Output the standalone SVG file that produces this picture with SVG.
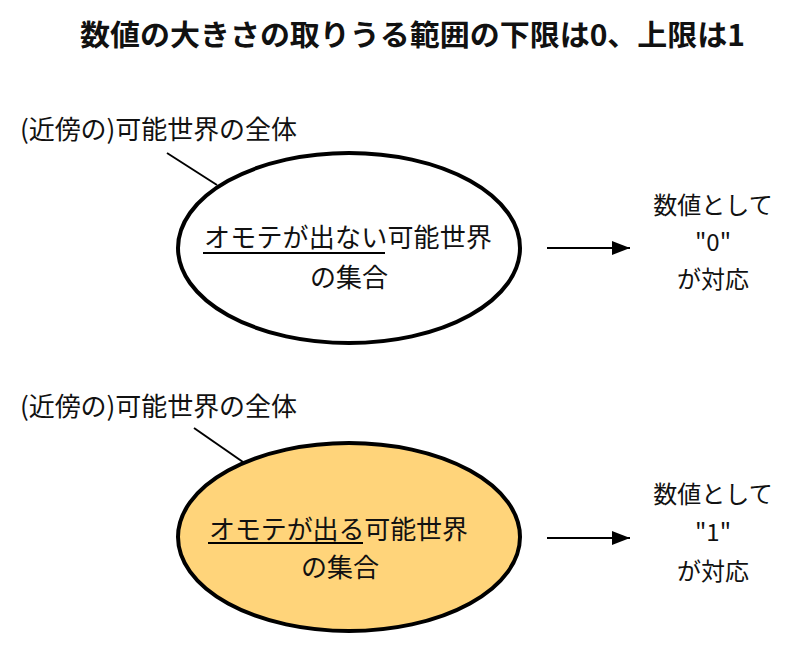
<svg xmlns="http://www.w3.org/2000/svg" width="800" height="656" viewBox="0 0 800 656">
<defs>
<style>
text{font-family:"Noto Sans CJK JP","Noto Sans",sans-serif;fill:#111;dominant-baseline:central}
.t{font-size:24px}
.m{font-size:26px}
.c{text-anchor:middle}
.title{font-size:29px;font-weight:bold}
.ell{stroke:#000;stroke-width:4}
.lead{stroke:#000;stroke-width:2;fill:none}
.ul{stroke:#000;stroke-width:2}
.arr{stroke:#000;stroke-width:2;fill:none}
</style>
<marker id="ah" markerWidth="18" markerHeight="14" refX="18" refY="7" orient="auto" markerUnits="userSpaceOnUse" viewBox="0 0 18 14">
<path d="M0,0 L18,7 L0,14 z" fill="#000"/>
</marker>
</defs>
<rect width="800" height="656" fill="#fff"/>
<text class="title" x="80" y="33" textLength="665" lengthAdjust="spacingAndGlyphs">数値の大きさの取りうる範囲の下限は0、上限は1</text>

<g id="label1"><text class="m" x="20" y="127" textLength="277">(近傍の)可能世界の全体</text></g>
<g id="set0">
<ellipse class="ell" cx="349" cy="248" rx="171" ry="95" fill="#fff"/>
<text class="m" x="204" y="235" textLength="288">オモテが出ない可能世界</text>
<line class="ul" x1="203" y1="253" x2="385" y2="253"/>
<text class="m c" x="349" y="275">の集合</text>
</g>
<g id="val0">
<text class="t c" x="713" y="203">数値として</text>
<text class="t c" x="713" y="240">"0"</text>
<text class="t c" x="713" y="277">が対応</text>
</g>

<g id="label2"><text class="m" x="20" y="404" textLength="277">(近傍の)可能世界の全体</text></g>
<g id="set1">
<ellipse class="ell" cx="349" cy="537" rx="171" ry="94" fill="#FFD47A"/>
<text class="m" x="209" y="527" textLength="259">オモテが出る可能世界</text>
<line class="ul" x1="208" y1="543" x2="363" y2="543"/>
<text class="m c" x="340" y="565">の集合</text>
</g>
<g id="val1">
<text class="t c" x="713" y="492">数値として</text>
<text class="t c" x="713" y="530">"1"</text>
<text class="t c" x="713" y="569">が対応</text>
</g>

<g id="connectors">
<line class="lead" x1="167" y1="153" x2="217" y2="185"/>
<line class="lead" x1="194" y1="428" x2="243" y2="462"/>
<line class="arr" x1="547" y1="248" x2="630" y2="248" marker-end="url(#ah)"/>
<line class="arr" x1="547" y1="538" x2="630" y2="538" marker-end="url(#ah)"/>
</g>
</svg>
